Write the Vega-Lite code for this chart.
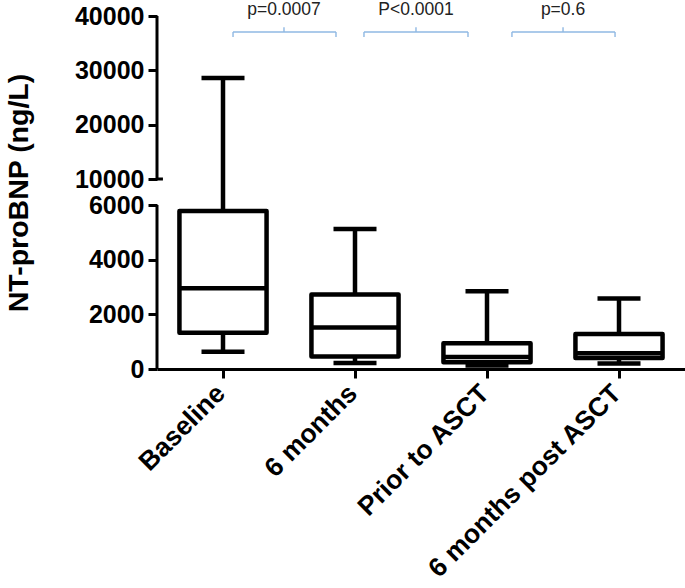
{
  "$schema": "https://vega.github.io/schema/vega-lite/v6.json",
  "width": 528,
  "height": 353,
  "autosize": {"type": "none"},
  "padding": {"left": 157, "top": 16, "right": 0, "bottom": 219},
  "background": "white",
  "config": {
    "view": {"stroke": null},
    "font": "Liberation Sans",
    "axisY": {
      "format": "d",
      "domain": false,
      "grid": false,
      "tickColor": "black",
      "tickWidth": 3,
      "tickSize": 9,
      "labelFont": "Liberation Sans",
      "labelFontWeight": "bold",
      "labelFontSize": 25,
      "labelColor": "black",
      "labelPadding": 4,
      "labelOverlap": false,
      "labelFlush": false,
      "titleFont": "Liberation Sans",
      "titleFontSize": 28.5,
      "titleFontWeight": "bold",
      "titleColor": "black",
      "titlePadding": 41
    }
  },
  "datasets": {
    "stats": [
      {"group": "Baseline", "min": 630, "q1": 1330, "median": 2950, "q3": 5780, "max": 28600},
      {"group": "6 months", "min": 220, "q1": 460, "median": 1520, "q3": 2730, "max": 5120},
      {"group": "Prior to ASCT", "min": 130, "q1": 250, "median": 440, "q3": 940, "max": 2840},
      {"group": "6 months post ASCT", "min": 200, "q1": 400, "median": 580, "q3": 1280, "max": 2580}
    ],
    "brackets": [
      {"label": "p=0.0007", "from": 0.076, "to": 0.856, "mid": 0.462},
      {"label": "P<0.0001", "from": 1.068, "to": 1.856, "mid": 1.462},
      {"label": "p=0.6", "from": 2.189, "to": 2.97, "mid": 2.576}
    ],
    "axisSegments": [
      {"lo": 0, "hi": 6000},
      {"lo": 10000, "hi": 40000}
    ]
  },
  "layer": [
    {
      "data": {"name": "stats"},
      "encoding": {
        "x": {
          "field": "group",
          "type": "nominal",
          "scale": {"domain": ["Baseline", "6 months", "Prior to ASCT", "6 months post ASCT"], "paddingInner": 0.34, "paddingOuter": 0.17},
          "axis": {
            "title": null,
            "labelAngle": -45,
            "labelAlign": "right",
            "labelBaseline": "middle",
            "labelFont": "Liberation Sans",
            "labelFontSize": 26.5,
            "labelFontWeight": "bold",
            "labelColor": "black",
            "labelPadding": 11,
            "labelOffset": -2,
            "labelLimit": 400,
            "domainColor": "black",
            "domainWidth": 3,
            "tickColor": "black",
            "tickWidth": 3,
            "tickSize": 9,
            "grid": false
          }
        }
      },
      "layer": [
        {
          "mark": {"type": "rule", "color": "black", "strokeWidth": 4.5},
          "encoding": {
            "y": {
              "field": "min",
              "type": "quantitative",
              "scale": {"type": "linear", "domain": [0, 6000, 10000, 40000], "range": [353, 189, 163, 0], "nice": false, "zero": false},
              "axis": {"values": [0, 2000, 4000, 6000, 10000, 20000, 30000, 40000], "title": "NT-proBNP (ng/L)"}
            },
            "y2": {"field": "max"}
          }
        },
        {
          "mark": {"type": "bar", "fill": "white", "stroke": "black", "strokeWidth": 4.5, "strokeJoin": "round"},
          "encoding": {
            "y": {"field": "q1", "type": "quantitative", "scale": {"type": "linear", "domain": [0, 6000, 10000, 40000], "range": [353, 189, 163, 0], "nice": false, "zero": false}, "axis": {"values": [0, 2000, 4000, 6000, 10000, 20000, 30000, 40000], "title": "NT-proBNP (ng/L)"}},
            "y2": {"field": "q3"}
          }
        },
        {
          "mark": {"type": "tick", "color": "black", "size": 87, "thickness": 4.5, "opacity": 1},
          "encoding": {
            "y": {"field": "median", "type": "quantitative", "scale": {"type": "linear", "domain": [0, 6000, 10000, 40000], "range": [353, 189, 163, 0], "nice": false, "zero": false}, "axis": {"values": [0, 2000, 4000, 6000, 10000, 20000, 30000, 40000], "title": "NT-proBNP (ng/L)"}}
          }
        },
        {
          "mark": {"type": "tick", "color": "black", "size": 43, "thickness": 4.5, "opacity": 1},
          "encoding": {
            "y": {"field": "max", "type": "quantitative", "scale": {"type": "linear", "domain": [0, 6000, 10000, 40000], "range": [353, 189, 163, 0], "nice": false, "zero": false}, "axis": {"values": [0, 2000, 4000, 6000, 10000, 20000, 30000, 40000], "title": "NT-proBNP (ng/L)"}}
          }
        },
        {
          "mark": {"type": "tick", "color": "black", "size": 43, "thickness": 4.5, "opacity": 1},
          "encoding": {
            "y": {"field": "min", "type": "quantitative", "scale": {"type": "linear", "domain": [0, 6000, 10000, 40000], "range": [353, 189, 163, 0], "nice": false, "zero": false}, "axis": {"values": [0, 2000, 4000, 6000, 10000, 20000, 30000, 40000], "title": "NT-proBNP (ng/L)"}}
          }
        }
      ]
    },
    {
      "layer": [
        {
          "data": {"name": "axisSegments"},
          "mark": {"type": "rule", "color": "black", "strokeWidth": 3},
          "encoding": {
            "x": {"datum": -0.5, "type": "quantitative", "scale": {"domain": [-0.5, 3.5], "nice": false, "zero": false}, "axis": null},
            "y": {"field": "lo", "type": "quantitative", "scale": {"type": "linear", "domain": [0, 6000, 10000, 40000], "range": [353, 189, 163, 0], "nice": false, "zero": false}, "axis": {"values": [0, 2000, 4000, 6000, 10000, 20000, 30000, 40000], "title": "NT-proBNP (ng/L)"}},
            "y2": {"field": "hi"}
          }
        },
        {
          "data": {"values": [{}]},
          "mark": {"type": "rule", "color": "black", "strokeWidth": 3},
          "encoding": {
            "x": {"datum": -0.5, "type": "quantitative", "scale": {"domain": [-0.5, 3.5], "nice": false, "zero": false}, "axis": null},
            "x2": {"datum": -0.455},
            "y": {"datum": 10000, "type": "quantitative", "scale": {"type": "linear", "domain": [0, 6000, 10000, 40000], "range": [353, 189, 163, 0], "nice": false, "zero": false}, "axis": {"values": [0, 2000, 4000, 6000, 10000, 20000, 30000, 40000], "title": "NT-proBNP (ng/L)"}}
          }
        },
        {
          "data": {"name": "brackets"},
          "layer": [
            {
              "mark": {"type": "rule", "color": "#8fb8e3", "strokeWidth": 1.4},
              "encoding": {
                "x": {"field": "from", "type": "quantitative", "scale": {"domain": [-0.5, 3.5], "nice": false, "zero": false}, "axis": null},
                "x2": {"field": "to"},
                "y": {"datum": 37050, "type": "quantitative", "scale": {"type": "linear", "domain": [0, 6000, 10000, 40000], "range": [353, 189, 163, 0], "nice": false, "zero": false}, "axis": {"values": [0, 2000, 4000, 6000, 10000, 20000, 30000, 40000], "title": "NT-proBNP (ng/L)"}}
              }
            },
            {
              "mark": {"type": "rule", "color": "#8fb8e3", "strokeWidth": 1.4},
              "encoding": {
                "x": {"field": "from", "type": "quantitative", "scale": {"domain": [-0.5, 3.5], "nice": false, "zero": false}, "axis": null},
                "y": {"datum": 36150, "type": "quantitative", "scale": {"type": "linear", "domain": [0, 6000, 10000, 40000], "range": [353, 189, 163, 0], "nice": false, "zero": false}, "axis": {"values": [0, 2000, 4000, 6000, 10000, 20000, 30000, 40000], "title": "NT-proBNP (ng/L)"}},
                "y2": {"datum": 37050}
              }
            },
            {
              "mark": {"type": "rule", "color": "#8fb8e3", "strokeWidth": 1.4},
              "encoding": {
                "x": {"field": "to", "type": "quantitative", "scale": {"domain": [-0.5, 3.5], "nice": false, "zero": false}, "axis": null},
                "y": {"datum": 36150, "type": "quantitative", "scale": {"type": "linear", "domain": [0, 6000, 10000, 40000], "range": [353, 189, 163, 0], "nice": false, "zero": false}, "axis": {"values": [0, 2000, 4000, 6000, 10000, 20000, 30000, 40000], "title": "NT-proBNP (ng/L)"}},
                "y2": {"datum": 37050}
              }
            },
            {
              "mark": {"type": "rule", "color": "#8fb8e3", "strokeWidth": 1.4},
              "encoding": {
                "x": {"field": "mid", "type": "quantitative", "scale": {"domain": [-0.5, 3.5], "nice": false, "zero": false}, "axis": null},
                "y": {"datum": 37050, "type": "quantitative", "scale": {"type": "linear", "domain": [0, 6000, 10000, 40000], "range": [353, 189, 163, 0], "nice": false, "zero": false}, "axis": {"values": [0, 2000, 4000, 6000, 10000, 20000, 30000, 40000], "title": "NT-proBNP (ng/L)"}},
                "y2": {"datum": 37950}
              }
            },
            {
              "mark": {"type": "text", "color": "#222222", "font": "Liberation Sans", "fontSize": 17.5, "align": "center", "baseline": "alphabetic"},
              "encoding": {
                "x": {"field": "mid", "type": "quantitative", "scale": {"domain": [-0.5, 3.5], "nice": false, "zero": false}, "axis": null},
                "y": {"datum": 40180, "type": "quantitative", "scale": {"type": "linear", "domain": [0, 6000, 10000, 40000], "range": [353, 189, 163, 0], "nice": false, "zero": false}, "axis": {"values": [0, 2000, 4000, 6000, 10000, 20000, 30000, 40000], "title": "NT-proBNP (ng/L)"}},
                "text": {"field": "label", "type": "nominal"}
              }
            }
          ]
        }
      ]
    }
  ],
  "resolve": {"scale": {"x": "independent"}}
}
